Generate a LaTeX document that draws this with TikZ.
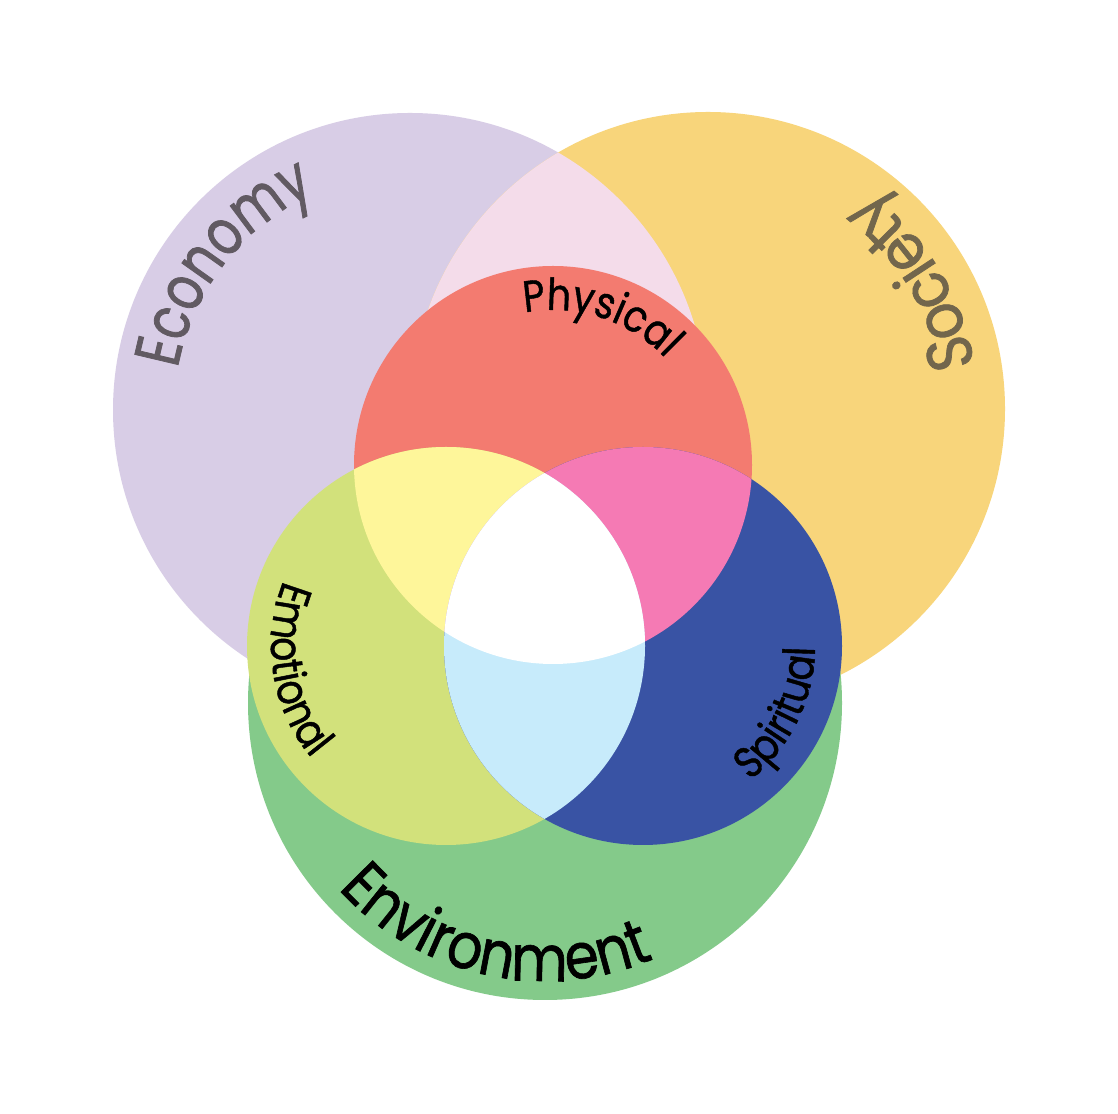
\documentclass[tikz,border=0pt]{standalone}
\usepackage{fontspec}
\setmainfont[FakeStretch=0.86]{Poppins}
\newfontfamily\ecofont[FakeStretch=0.78,FakeBold=1.2]{Poppins}
\newfontfamily\socfont[FakeStretch=0.90,FakeBold=1.2]{Poppins}
\newfontfamily\labfont[FakeStretch=0.86,FakeBold=1]{Poppins}
\usetikzlibrary{decorations.text}
\definecolor{econ}{HTML}{D8CDE6}
\definecolor{soc}{HTML}{F8D57B}
\definecolor{env}{HTML}{84CA8A}
\definecolor{ecosoc}{HTML}{F4DCEA}
\definecolor{phys}{HTML}{F37B70}
\definecolor{emot}{HTML}{D2E17B}
\definecolor{spir}{HTML}{3953A4}
\definecolor{physemot}{HTML}{FEF69A}
\definecolor{physspir}{HTML}{F57AB4}
\definecolor{emotspir}{HTML}{C7EBFB}
\definecolor{ecotext}{HTML}{615A62}
\definecolor{soctext}{HTML}{72664C}
\tikzset{
  arclabel/.style n args={4}{decorate, decoration={text along path, text align=center, text color=#3,
     text={|#4\fontsize{#1}{#1}\selectfont|#2}}},
}
\begin{document}
\begin{tikzpicture}[x=1pt,y=1pt]
\useasboundingbox (0,0) rectangle (1118,1113);
\fill[white] (0,0) rectangle (1118,1113);
\coordinate (eco) at (410,703);
\coordinate (soc) at (708,704);
\coordinate (env) at (545,410);
\coordinate (phy) at (553,648);
\coordinate (emo) at (446,467);
\coordinate (spi) at (643,467);
% big circles
\fill[econ] (eco) circle[radius=297];
\fill[soc] (soc) circle[radius=297];
\fill[env] (env) circle[radius=297];
\begin{scope}
  \clip (eco) circle[radius=297];
  \fill[ecosoc] (soc) circle[radius=297];
\end{scope}
% small circles
\fill[phys] (phy) circle[radius=199];
\fill[emot] (emo) circle[radius=199];
\fill[spir] (spi) circle[radius=199];
\begin{scope}
  \clip (phy) circle[radius=199];
  \fill[physemot] (emo) circle[radius=199];
  \fill[physspir] (spi) circle[radius=199];
\end{scope}
\begin{scope}
  \clip (emo) circle[radius=199];
  \fill[emotspir] (spi) circle[radius=199];
  \clip (phy) circle[radius=199];
  \fill[white] (spi) circle[radius=199];
\end{scope}
% labels
\path[arclabel={64}{Economy}{ecotext}{\ecofont}] ([shift={(200:236)}]eco) arc[start angle=200, end angle=83.6, radius=236];
\path[arclabel={64}{Society}{soctext}{\socfont}] ([shift={(-25.5:270)}]soc) arc[start angle=-25.5, end angle=88.5, radius=270];
\path[arclabel={64}{Environment}{black}{\labfont}] ([shift={(200:278)}]env) arc[start angle=200, end angle=315, radius=278];
\path[arclabel={44}{Physical}{black}{\labfont}] ([shift={(128:155)}]phy) arc[start angle=128, end angle=16, radius=155];
\path[arclabel={44}{Emotional}{black}{\labfont}] ([shift={(129:175)}]emo) arc[start angle=129, end angle=249, radius=175];
\path[arclabel={44}{Spiritual}{black}{\labfont}] ([shift={(-85:172)}]spi) arc[start angle=-85, end angle=33, radius=172];
\end{tikzpicture}
\end{document}
